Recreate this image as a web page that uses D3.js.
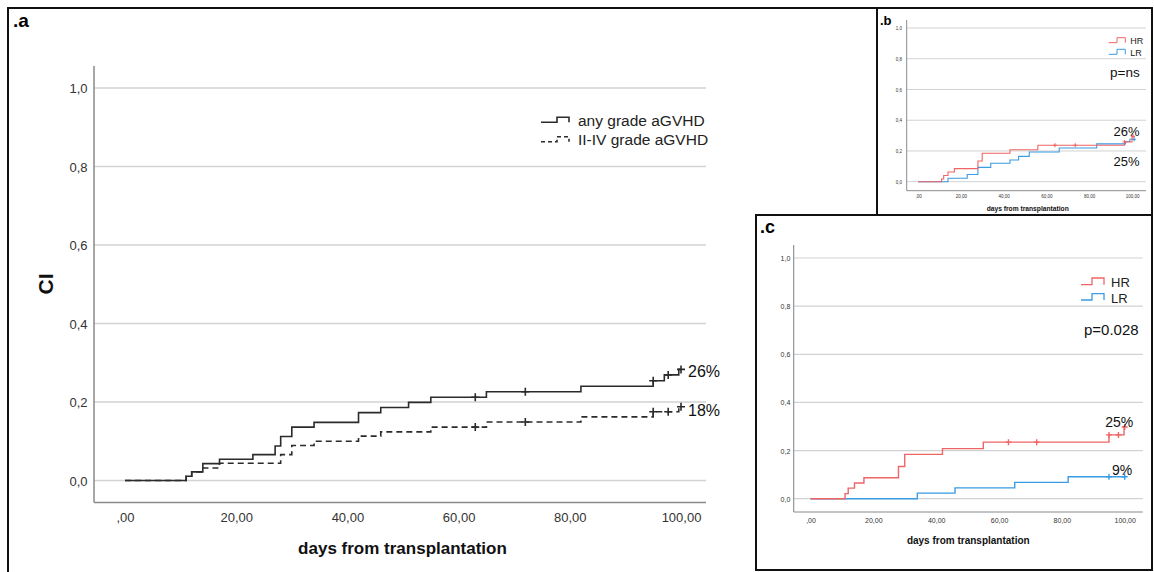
<!DOCTYPE html>
<html><head><meta charset="utf-8">
<script src="https://cdn.jsdelivr.net/npm/d3@7"></script>
<style>
html,body{margin:0;padding:0;background:#fff;}
svg{display:block;font-family:"Liberation Sans",Arial,sans-serif;}
</style></head>
<body><svg id="chart" width="1154" height="572"></svg>
<script>
// ---------- DATA ----------
const xTicks = [0, 20, 40, 60, 80, 100];
const xTickLabels = [",00", "20,00", "40,00", "60,00", "80,00", "100,00"];
const yTicks = [0, 0.2, 0.4, 0.6, 0.8, 1.0];
const yTickLabels = ["0,0", "0,2", "0,4", "0,6", "0,8", "1,0"];

// panel a
const anyGradeTimes  = [0, 11, 12, 14, 17, 23, 27, 28, 30, 34, 42, 46, 51, 55, 65, 82, 95, 97, 99.6];
const anyGradeValues = [0, 0.011, 0.022, 0.043, 0.054, 0.066, 0.088, 0.112, 0.136, 0.148, 0.173, 0.186, 0.199, 0.212, 0.226, 0.240, 0.254, 0.269, 0.283];
const anyGradeCensor = [63, 72, 95, 97.7, 100];
const anyGradeEnd = 100;
const severeTimes  = [0, 11, 12, 14, 17, 28, 30, 34, 42, 46, 55, 65, 82, 95, 99.6];
const severeValues = [0, 0.011, 0.022, 0.032, 0.044, 0.066, 0.089, 0.100, 0.113, 0.124, 0.136, 0.149, 0.162, 0.175, 0.188];
const severeCensor = [63, 72, 95, 97.7, 100];
const severeEnd = 100;
const seriesALabels = ["any grade aGVHD", "II-IV grade aGVHD"];
const panelALabels = ["26%", "18%"];

// panel b
const bHRTimes  = [0, 11, 12, 14, 17, 28, 30, 43, 56, 96.5, 100];
const bHRValues = [0, 0.018, 0.040, 0.063, 0.085, 0.135, 0.185, 0.208, 0.237, 0.258, 0.295];
const bHRCensor = [64, 73.5, 96.5, 100.5];
const bHREnd = 100.5;
const bLRTimes  = [0, 14, 23, 28, 34, 43, 47, 52, 66, 83.5, 97, 99];
const bLRValues = [0, 0.022, 0.047, 0.093, 0.120, 0.141, 0.165, 0.193, 0.219, 0.246, 0.262, 0.276];
const bLRCensor = [101];
const bLREnd = 101;
const panelBLabels = ["26%", "25%"];
const panelBPValue = "p=ns";

// panel c
const cHRTimes  = [0, 11, 12, 14, 17, 28, 30, 42, 55, 95, 99.8];
const cHRValues = [0, 0.021, 0.044, 0.065, 0.087, 0.134, 0.184, 0.208, 0.235, 0.265, 0.298];
const cHRCensor = [63, 72, 95, 98, 100];
const cHREnd = 100;
const cLRTimes  = [0, 34, 46, 65, 82];
const cLRValues = [0, 0.023, 0.045, 0.068, 0.091];
const cLRCensor = [95, 100];
const cLREnd = 100;
const panelCLabels = ["25%", "9%"];
const panelCPValue = "p=0.028";

const groupLabels = ["HR", "LR"];
const xTitle = "days from transplantation";

// ---------- DRAW ----------
const svg = d3.select("#chart");
const RED = "#ef6565", BLUE = "#3a9ce4", DARK = "#2b2b2b";

function series(times, values, end) {
  const pts = times.map((t, i) => [t, values[i]]);
  pts.push([end, values[values.length - 1]]);
  return pts;
}
function valueAt(times, values, t) {
  const i = d3.bisectRight(times, t) - 1;
  return values[Math.max(0, i)];
}

function panel(cfg) {
  const g = svg.append("g");
  const x = d3.scaleLinear().domain([0, 100]).range(cfg.xr);
  const y = d3.scaleLinear().domain([0, 1]).range(cfg.yr);
  // grid
  g.selectAll("line.grid").data(yTicks).join("line")
    .attr("x1", cfg.left).attr("x2", cfg.right)
    .attr("y1", d => y(d)).attr("y2", d => y(d))
    .attr("stroke", "#d2d2d2").attr("stroke-width", cfg.gridW);
  // axis lines
  g.append("line").attr("x1", cfg.left).attr("x2", cfg.left).attr("y1", cfg.top).attr("y2", cfg.bottom)
    .attr("stroke", "#8a8a8a").attr("stroke-width", cfg.axisW);
  g.append("line").attr("x1", cfg.left).attr("x2", cfg.right).attr("y1", cfg.bottom).attr("y2", cfg.bottom)
    .attr("stroke", "#8a8a8a").attr("stroke-width", cfg.axisW);
  // x tick labels via axis
  const xa = g.append("g").attr("transform", `translate(0,${cfg.xLabY})`)
    .call(d3.axisBottom(x).tickValues(xTicks).tickSize(0).tickPadding(0)
      .tickFormat((d, i) => xTickLabels[i]));
  xa.select(".domain").remove();
  xa.selectAll("text").attr("font-size", cfg.tickFont).attr("fill", "#333")
    .attr("font-family", "Liberation Sans, Arial, sans-serif").attr("dy", 0).attr("y", 0);
  const ya = g.append("g").attr("transform", `translate(${cfg.yLabX},0)`)
    .call(d3.axisLeft(y).tickValues(yTicks).tickSize(0).tickPadding(0)
      .tickFormat((d, i) => yTickLabels[i]));
  ya.select(".domain").remove();
  ya.selectAll("text").attr("font-size", cfg.tickFont).attr("fill", "#333")
    .attr("font-family", "Liberation Sans, Arial, sans-serif").attr("x", 0).attr("dy", "0.35em");
  // x title
  g.append("text").attr("x", cfg.titleX).attr("y", cfg.titleY).attr("text-anchor", "middle")
    .attr("font-weight", "bold").attr("font-size", cfg.titleFont).attr("fill", "#111").text(xTitle);

  const line = d3.line().x(d => x(d[0])).y(d => y(d[1])).curve(d3.curveStepAfter);
  cfg.series.forEach(s => {
    g.append("path").datum(series(s.times, s.values, s.end)).attr("d", line)
      .attr("fill", "none").attr("stroke", s.color).attr("stroke-width", cfg.lineW)
      .attr("stroke-dasharray", s.dash || null);
    const cs = cfg.censor;
    g.selectAll(null).data(s.censor).join("path")
      .attr("d", t => {
        const cx = x(t), cy = y(valueAt(s.times, s.values, t));
        return `M${cx},${cy - cs}V${cy + cs}M${cx - cs},${cy}H${cx + cs}`;
      })
      .attr("stroke", s.color).attr("stroke-width", cfg.lineW).attr("fill", "none");
  });
  return {g, x, y};
}

// panel a
const pa = panel({
  xr: [125, 681], yr: [480.5, 88], left: 94, right: 706, top: 66, bottom: 502.5,
  gridW: 1.6, axisW: 1.5, tickFont: 13, xLabY: 522, yLabX: 87.5,
  titleX: 402.5, titleY: 554, titleFont: 17, lineW: 1.6, censor: 4,
  series: [
    {times: severeTimes, values: severeValues, end: severeEnd, censor: severeCensor, color: DARK, dash: "6,4"},
    {times: anyGradeTimes, values: anyGradeValues, end: anyGradeEnd, censor: anyGradeCensor, color: DARK}
  ]
});
pa.g.append("text").attr("x", 46).attr("y", 284).attr("transform", "rotate(-90,46,284)")
  .attr("text-anchor", "middle").attr("dy", "0.35em").attr("font-weight", "bold")
  .attr("font-size", 21).attr("fill", "#111").text("CI");
[[122.3, 117.3, null], [141.7, 136.7, "4,3"]].forEach((r, i) => {
  pa.g.append("path").attr("d", `M541,${r[0]}H557V${r[1]}H569V${r[0]}`)
    .attr("fill", "none").attr("stroke", DARK).attr("stroke-width", 1.6).attr("stroke-dasharray", r[2]);
  pa.g.append("text").attr("x", 578).attr("y", [126, 145][i]).attr("font-size", 15.5)
    .attr("fill", "#222").text(seriesALabels[i]);
});
pa.g.selectAll(null).data(panelALabels).join("text")
  .attr("x", 688).attr("y", (d, i) => [377, 416][i]).attr("font-size", 16).attr("fill", "#111").text(d => d);

// panel b
const pb = panel({
  xr: [918, 1132], yr: [181.7, 28], left: 906.7, right: 1146, top: 20, bottom: 190.7,
  gridW: 1, axisW: 1, tickFont: 4.5, xLabY: 197.5, yLabX: 902,
  titleX: 1027.7, titleY: 211, titleFont: 6.7, lineW: 1.1, censor: 2,
  series: [
    {times: bLRTimes, values: bLRValues, end: bLREnd, censor: bLRCensor, color: BLUE},
    {times: bHRTimes, values: bHRValues, end: bHREnd, censor: bHRCensor, color: RED}
  ]
});
[[42.7, 37.7, RED], [54.3, 49.3, BLUE]].forEach((r, i) => {
  pb.g.append("path").attr("d", `M1108.7,${r[0]}H1117V${r[1]}H1125.3V${r[0]}`)
    .attr("fill", "none").attr("stroke", r[2]).attr("stroke-width", 1);
  pb.g.append("text").attr("x", 1130.3).attr("y", [44, 56][i]).attr("font-size", 9)
    .attr("fill", "#222").text(groupLabels[i]);
});
pb.g.append("text").attr("x", 1110).attr("y", 77.3).attr("font-size", 13.5).attr("fill", "#111").text(panelBPValue);
pb.g.selectAll(null).data(panelBLabels).join("text")
  .attr("x", 1113.5).attr("y", (d, i) => [135.7, 166.3][i]).attr("font-size", 13).attr("fill", "#111").text(d => d);

// panel c
const pc = panel({
  xr: [810.5, 1124.7], yr: [498.7, 258], left: 793.7, right: 1142.7, top: 245, bottom: 512,
  gridW: 1.2, axisW: 1.1, tickFont: 7, xLabY: 523, yLabX: 790.3,
  titleX: 968.3, titleY: 544, titleFont: 10, lineW: 1.4, censor: 3,
  series: [
    {times: cLRTimes, values: cLRValues, end: cLREnd, censor: cLRCensor, color: BLUE},
    {times: cHRTimes, values: cHRValues, end: cHREnd, censor: cHRCensor, color: RED}
  ]
});
[[284.7, 278, RED], [300, 293.7, BLUE]].forEach((r, i) => {
  pc.g.append("path").attr("d", `M1081,${r[0]}H1092V${r[1]}H1104V${r[0]}`)
    .attr("fill", "none").attr("stroke", r[2]).attr("stroke-width", 1.3);
  pc.g.append("text").attr("x", 1111).attr("y", [287, 302.7][i]).attr("font-size", 13)
    .attr("fill", "#222").text(groupLabels[i]);
});
pc.g.append("text").attr("x", 1084).attr("y", 334.7).attr("font-size", 15).attr("fill", "#111").text(panelCPValue);
pc.g.selectAll(null).data(panelCLabels).join("text")
  .attr("x", (d, i) => [1105.3, 1112][i]).attr("y", (d, i) => [427, 475.3][i])
  .attr("font-size", 14).attr("fill", "#111").text(d => d);

// panel letters
[[".a", 13, 27, 19], [".b", 880, 25, 13], [".c", 760, 233, 18]].forEach(p => {
  svg.append("text").attr("x", p[1]).attr("y", p[2]).attr("font-weight", "bold")
    .attr("font-size", p[3]).attr("fill", "#000").text(p[0]);
});

// frames
const frame = [
  [7, 8, 1153, 8], [8, 7, 8, 572], [877, 8, 877, 215], [755, 215, 1153, 215],
  [756, 215, 756, 571], [756, 570, 1153, 570], [1152, 8, 1152, 570]
];
svg.selectAll("line.frame").data(frame).join("line").attr("class", "frame")
  .attr("x1", d => d[0]).attr("y1", d => d[1]).attr("x2", d => d[2]).attr("y2", d => d[3])
  .attr("stroke", "#111").attr("stroke-width", 2);
</script></body></html>
